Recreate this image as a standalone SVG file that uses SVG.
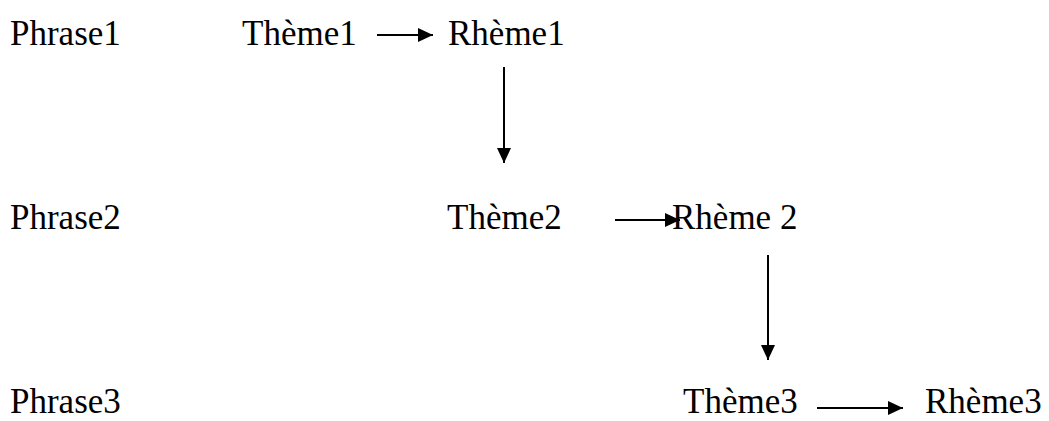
<svg xmlns="http://www.w3.org/2000/svg" width="1049" height="421" viewBox="0 0 1049 421">
<style>
text{font-family:"Liberation Serif","Times New Roman",serif;font-size:35px;fill:#000}
.c line{stroke:#000;stroke-width:2}
</style>
<defs>
<marker id="ah" viewBox="0 0 15 14" refX="15" refY="7" markerWidth="15" markerHeight="14" markerUnits="userSpaceOnUse" orient="auto">
<path d="M0,0 L15,7 L0,14 Z" fill="#000"/>
</marker>
</defs>
<rect width="1049" height="421" fill="#fff"/>
<g id="phrase1"><text x="10" y="45">Phrase1</text></g>
<g id="phrase2"><text x="10" y="229">Phrase2</text></g>
<g id="phrase3"><text x="10" y="413">Phrase3</text></g>
<g id="theme1"><text x="242" y="45">Thème1</text></g>
<g id="rheme1"><text x="448" y="45">Rhème1</text></g>
<g id="theme2"><text x="447" y="229">Thème2</text></g>
<g id="rheme2"><text x="672" y="229">Rhème 2</text></g>
<g id="theme3"><text x="683" y="413">Thème3</text></g>
<g id="rheme3"><text x="925" y="413">Rhème3</text></g>
<g class="c" id="connectors">
<line x1="377" y1="35" x2="433" y2="35" marker-end="url(#ah)"/>
<line x1="504" y1="67" x2="504" y2="163" marker-end="url(#ah)"/>
<line x1="615" y1="220" x2="680" y2="220" marker-end="url(#ah)"/>
<line x1="768" y1="255" x2="768" y2="360" marker-end="url(#ah)"/>
<line x1="817" y1="408" x2="903" y2="408" marker-end="url(#ah)"/>
</g>
</svg>
